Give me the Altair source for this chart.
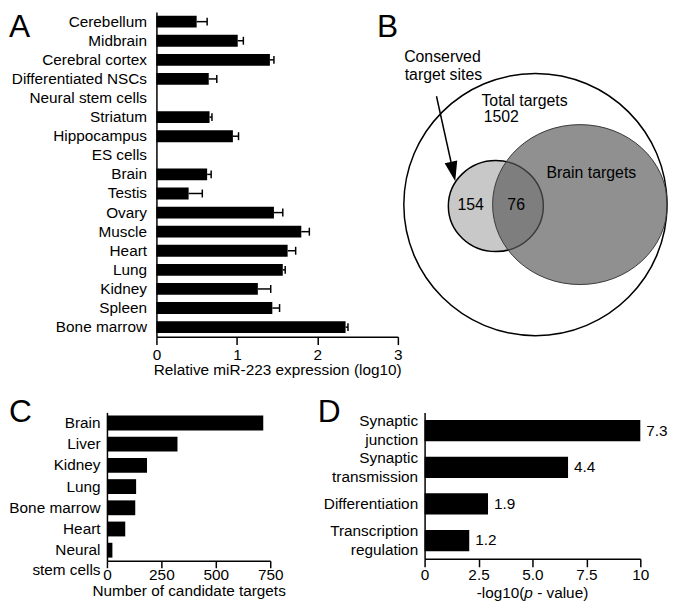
import altair as alt
import pandas as pd

FONT = "Liberation Sans"
FS = 15.5

# ---------------- data ----------------
# Panel A
a_tissues = ["Cerebellum", "Midbrain", "Cerebral cortex", "Differentiated NSCs",
             "Neural stem cells", "Striatum", "Hippocampus", "ES cells", "Brain",
             "Testis", "Ovary", "Muscle", "Heart", "Lung", "Kidney", "Spleen",
             "Bone marrow"]
a_expr = [0.50, 1.01, 1.41, 0.65, 0.0, 0.66, 0.95, 0.0, 0.63,
          0.40, 1.46, 1.80, 1.63, 1.57, 1.26, 1.44, 2.35]
a_err = [0.13, 0.07, 0.05, 0.10, 0.0, 0.03, 0.07, 0.0, 0.05,
         0.17, 0.11, 0.10, 0.10, 0.03, 0.16, 0.09, 0.03]
a_ticks = [0, 1, 2, 3]

# Panel B (Venn diagram layout, in panel pixel units)
b_sets = ["Total targets", "Conserved target sites", "Brain targets"]
b_cx = [134, 94, 179]
b_cy = [194.5, 196, 194.5]
b_rx = [133, 48, 88.3]
b_ry = [132.5, 46, 80.8]
b_fill = ["white", "#c8c8c8", "#595959"]
b_fill_op = [1.0, 1.0, 0.67]
b_stroke = ["black", "black", "#3a3a3a"]
b_stroke_w = [1.5, 1.5, 1.0]
b_texts = ["Conserved", "target sites", "Total targets", "1502", "Brain targets", "154", "76"]
b_tx = [40, 41, 123, 99.5, 190.5, 68.5, 114.5]
b_ty = [45, 64, 89.5, 106, 163, 195, 195]
b_arrow = {"x1": [34], "y1": [85], "x2": [48.7], "y2": [151.5]}
b_head = {"x": [50.8], "y": [161.2]}

# Panel C
c_tissues = ["Brain", "Liver", "Kidney", "Lung", "Bone marrow", "Heart", "Neural stem cells"]
c_targets = [718, 324, 184, 134, 130, 84, 25]
c_ticks = [0, 250, 500, 750]

# Panel D
d_terms = ["Synaptic junction", "Synaptic transmission", "Differentiation",
           "Transcription regulation"]
d_bar = [10.0, 6.65, 2.94, 2.07]
d_label = ["7.3", "4.4", "1.9", "1.2"]
d_ticks = [0, 2.5, 5, 7.5, 10]


def letter(ch, x, y):
    return alt.Chart(pd.DataFrame({"t": [ch]})).mark_text(
        align="left", baseline="top", fontSize=32, font=FONT, color="black"
    ).encode(text="t:N", x=alt.value(x), y=alt.value(y))


# ---------------- Panel A (also carries the "B" panel letter) ----------------
# The view starts 50px left of the y axis so that it shares its origin with panel C.
A_SHIFT = 50
A_PLOT_W, A_H = 244, 328
A_W = A_PLOT_W + A_SHIFT
dfa = pd.DataFrame({"tissue": a_tissues, "expr": a_expr, "err": a_err})
dfa["hi"] = dfa["expr"] + dfa["err"]
dfa_e = dfa[dfa["err"] > 0]
ya = alt.Y("tissue:N", sort=a_tissues,
           scale=alt.Scale(paddingInner=0.38, paddingOuter=0.19),
           axis=alt.Axis(title=None, ticks=False, labelPadding=10, offset=-A_SHIFT))
xa = alt.X("expr:Q", scale=alt.Scale(domain=[0, 3], nice=False, range=[A_SHIFT, A_W]),
           axis=alt.Axis(values=a_ticks, format="d", tickSize=8, labelPadding=3,
                         titlePadding=0, title="Relative miR-223 expression (log10)"))
a_bars = alt.Chart(dfa).mark_bar(color="black").encode(x=xa, y=ya)
a_rule = alt.Chart(dfa_e).mark_rule(color="black", strokeWidth=1.5).encode(
    x="expr:Q", x2="hi:Q", y=alt.Y("tissue:N", sort=a_tissues))
a_cap = alt.Chart(dfa_e).mark_tick(color="black", thickness=1.5, size=8, opacity=1).encode(
    x="hi:Q", y=alt.Y("tissue:N", sort=a_tissues))
A = alt.layer(a_bars, a_rule, a_cap, letter("A", -99, 0), letter("B", 273, 0)).properties(
    width=A_W, height=A_H)

# ---------------- Panel B ----------------
B_W, B_H = 270, 330
dfb = pd.DataFrame({"set": b_sets, "cx": b_cx, "cy": b_cy, "rx": b_rx, "ry": b_ry,
                    "fill": b_fill, "fop": b_fill_op, "stroke": b_stroke, "sw": b_stroke_w})
dfb["size"] = (2 * dfb["rx"]) ** 2
dfb["shape"] = ["M-1,0A1,%.4f,0,1,1,1,0A1,%.4f,0,1,1,-1,0Z" % (r, r)
                for r in dfb["ry"] / dfb["rx"]]
bx_scale = alt.Scale(domain=[0, B_W], nice=False, zero=False)
by_scale = alt.Scale(domain=[0, B_H], nice=False, zero=False, reverse=True)
b_shapes = alt.Chart(dfb).mark_point(filled=True, opacity=1, clip=True).encode(
    x=alt.X("cx:Q", scale=bx_scale, axis=None),
    y=alt.Y("cy:Q", scale=by_scale, axis=None),
    size=alt.Size("size:Q", scale=None),
    shape=alt.Shape("shape:N", scale=None),
    fill=alt.Fill("fill:N", scale=None),
    fillOpacity=alt.FillOpacity("fop:Q", scale=None),
    stroke=alt.Stroke("stroke:N", scale=None),
    strokeWidth=alt.StrokeWidth("sw:Q", scale=None),
)
dft = pd.DataFrame({"label": b_texts, "tx": b_tx, "ty": b_ty})
b_text = alt.Chart(dft).mark_text(font=FONT, fontSize=16, color="black").encode(
    x=alt.X("tx:Q", scale=bx_scale, axis=None),
    y=alt.Y("ty:Q", scale=by_scale, axis=None),
    text="label:N")
b_rule = alt.Chart(pd.DataFrame(b_arrow)).mark_rule(color="black", strokeWidth=1.5, clip=True).encode(
    x=alt.X("x1:Q", scale=bx_scale, axis=None), y=alt.Y("y1:Q", scale=by_scale, axis=None),
    x2="x2:Q", y2="y2:Q")
b_head_m = alt.Chart(pd.DataFrame(b_head)).mark_point(
    shape="M-0.65,-1L0.65,-1L0,1Z", filled=True, color="black", opacity=1,
    size=400, angle=347.5, clip=True).encode(
    x=alt.X("x:Q", scale=bx_scale, axis=None), y=alt.Y("y:Q", scale=by_scale, axis=None))
B = alt.layer(b_shapes, b_rule, b_head_m, b_text).properties(width=B_W, height=B_H)

# ---------------- Panel C ----------------
C_W, C_H = 165, 150
dfc = pd.DataFrame({"tissue": c_tissues, "n": c_targets})
yc = alt.Y("tissue:N", sort=c_tissues,
           scale=alt.Scale(paddingInner=0.3, paddingOuter=0.15),
           axis=alt.Axis(title=None, ticks=False, labelPadding=7, labelLineHeight=20,
                         labelExpr="datum.value == 'Neural stem cells' ? ['Neural', 'stem cells'] : datum.label"))
xc = alt.X("n:Q", scale=alt.Scale(domain=[0, 750], nice=False),
           axis=alt.Axis(values=c_ticks, format="d", tickSize=7, labelPadding=0,
                         titlePadding=1, title="Number of candidate targets"))
c_bars = alt.Chart(dfc).mark_bar(color="black").encode(x=xc, y=yc)
C = alt.layer(c_bars, letter("C", -99, -15)).properties(width=C_W, height=C_H)

# ---------------- Panel D ----------------
D_W, D_H = 218, 148
dfd = pd.DataFrame({"term": d_terms, "v": d_bar, "lab": d_label})
yd = alt.Y("term:N", sort=d_terms,
           scale=alt.Scale(paddingInner=0.42, paddingOuter=0.21),
           axis=alt.Axis(title=None, ticks=False, labelPadding=7, labelLineHeight=19,
                         labelExpr="split(datum.label, ' ')",
                         labelOffset={"condition": {"test": "indexof(datum.value, ' ') >= 0",
                                                    "value": -9.5}, "value": 0}))
xd = alt.X("v:Q", scale=alt.Scale(domain=[0, 10], nice=False),
           axis=alt.Axis(values=d_ticks, tickSize=8, labelPadding=1, title=None,
                         labelExpr="datum.value == 0 || datum.value == 10 ? format(datum.value, 'd') : format(datum.value, '.1f')"))
d_bars = alt.Chart(dfd).mark_bar(color="black").encode(x=xd, y=yd)
d_text = alt.Chart(dfd).mark_text(align="left", dx=6, font=FONT, fontSize=FS, color="black").encode(
    x="v:Q", y=alt.Y("term:N", sort=d_terms), text="lab:N")

# x-axis title with italic p, built from three text pieces
w1, wp, wsp, w3 = 3.112 * FS, 0.556 * FS, 0.278 * FS, 3.334 * FS
x_start = D_W / 2 - (w1 + wp + wsp + w3) / 2
ty = D_H + 40
t1 = alt.Chart(pd.DataFrame({"t": ["-log10("]})).mark_text(
    align="right", baseline="alphabetic", font=FONT, fontSize=FS, color="black"
).encode(text="t:N", x=alt.value(x_start + w1), y=alt.value(ty))
t2 = alt.Chart(pd.DataFrame({"t": ["p"]})).mark_text(
    align="left", baseline="alphabetic", font=FONT, fontSize=FS, fontStyle="italic", color="black"
).encode(text="t:N", x=alt.value(x_start + w1), y=alt.value(ty))
t3 = alt.Chart(pd.DataFrame({"t": ["- value)"]})).mark_text(
    align="left", baseline="alphabetic", font=FONT, fontSize=FS, color="black"
).encode(text="t:N", x=alt.value(x_start + w1 + wp + wsp), y=alt.value(ty))
D = alt.layer(d_bars, d_text, t1, t2, t3, letter("D", -108, -15)).properties(width=D_W, height=D_H)

# ---------------- compose ----------------
top = alt.hconcat(A, B, spacing=0)
bottom = alt.hconcat(C, D, spacing=32)
chart = alt.vconcat(top, bottom, spacing=18.5).properties(
    padding=0
).configure_view(
    stroke=None
).configure_axis(
    domainColor="black", domainWidth=1.5, tickColor="black", tickWidth=1.5,
    labelColor="black", titleColor="black", labelFont=FONT, titleFont=FONT,
    labelFontSize=FS, titleFontSize=FS, titleFontWeight="normal", grid=False,
    labelFlush=False
).configure_text(font=FONT)

chart.save("out.html", embed_options={"renderer": "svg", "actions": False})
